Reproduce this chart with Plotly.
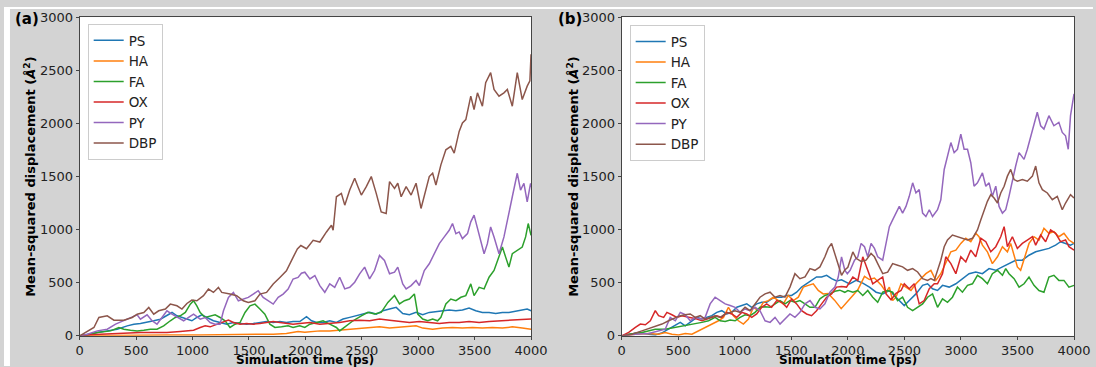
import plotly.graph_objects as go

# Mean-squared displacement curves, (time in ps, MSD in Å^2)
names = ["PS", "HA", "FA", "OX", "PY", "DBP"]
colors = ["#1f77b4", "#ff7f0e", "#2ca02c", "#d62728", "#9467bd", "#8c564b"]
x_ticks = [0, 500, 1000, 1500, 2000, 2500, 3000, 3500, 4000]
y_ticks = [0, 500, 1000, 1500, 2000, 2500, 3000]

# ---- panel (a) ----
a_ps = [(0,0),(68,16),(156,31),(244,47),(332,63),(421,94),(480,110),(538,116),(597,126),(656,142),(715,157),(773,189),(818,220),(862,189),(906,173),(950,157),(994,142),(1038,173),(1082,198),(1126,173),(1185,142),(1244,126),(1303,110),(1362,126),(1421,116),(1479,110),(1538,116),(1597,126),(1656,135),(1715,126),(1774,135),(1832,126),(1891,135),(1950,135),(2010,180),(2055,142),(2099,126),(2157,126),(2216,142),(2275,126),(2334,158),(2393,174),(2452,189),(2510,205),(2569,221),(2628,205),(2687,237),(2746,252),(2805,268),(2863,211),(2922,199),(2981,221),(3040,199),(3098,221),(3157,230),(3216,237),(3275,243),(3334,237),(3392,243),(3451,262),(3510,237),(3569,221),(3628,221),(3687,211),(3746,221),(3804,221),(3863,230),(3922,243),(3966,252),(4000,237)]
a_ha = [(0,0),(200,3),(480,6),(773,9),(1070,9),(1362,9),(1597,13),(1715,16),(1832,22),(1891,31),(1935,41),(1995,35),(2040,41),(2128,47),(2216,47),(2304,54),(2393,63),(2481,73),(2569,79),(2657,85),(2746,73),(2834,79),(2922,85),(2981,95),(3040,73),(3128,63),(3216,73),(3304,79),(3392,73),(3481,79),(3569,73),(3657,79),(3746,73),(3834,85),(3922,73),(4000,63)]
a_fa = [(0,0),(68,9),(156,31),(274,47),(347,79),(391,63),(450,53),(509,47),(568,53),(627,63),(685,63),(744,94),(803,142),(847,173),(891,189),(936,220),(980,299),(1009,330),(1038,283),(1068,220),(1112,173),(1156,189),(1200,198),(1244,173),(1288,142),(1332,79),(1377,110),(1421,126),(1465,220),(1509,283),(1553,299),(1597,252),(1641,204),(1685,110),(1730,79),(1789,85),(1847,94),(1891,79),(1950,95),(1995,79),(2040,110),(2099,126),(2157,142),(2216,110),(2275,79),(2304,47),(2363,95),(2422,142),(2496,189),(2554,221),(2613,205),(2672,221),(2731,315),(2790,379),(2834,300),(2878,331),(2922,347),(2966,394),(2996,205),(3040,158),(3084,142),(3128,158),(3172,142),(3201,174),(3245,300),(3289,347),(3334,331),(3378,363),(3422,379),(3466,489),(3495,379),(3540,457),(3584,442),(3628,552),(3672,615),(3716,741),(3746,836),(3775,741),(3804,647),(3834,773),(3878,804),(3922,836),(3952,931),(3975,1057),(4000,946)]
a_ox = [(0,0),(68,9),(185,16),(303,22),(421,31),(538,31),(656,31),(773,31),(891,41),(1009,53),(1068,79),(1112,94),(1156,85),(1215,110),(1274,135),(1318,148),(1362,126),(1421,110),(1479,116),(1538,110),(1597,116),(1656,126),(1715,135),(1774,126),(1832,116),(1891,110),(1950,117),(2040,126),(2128,110),(2216,117),(2304,126),(2393,142),(2481,148),(2569,142),(2657,158),(2746,148),(2834,136),(2922,126),(3010,136),(3098,126),(3187,117),(3275,126),(3363,126),(3451,136),(3540,126),(3628,136),(3716,142),(3804,142),(3893,148),(4000,158)]
a_py = [(0,0),(68,16),(156,47),(244,63),(318,110),(391,142),(450,173),(509,198),(538,157),(597,198),(641,142),(685,110),(729,173),(773,236),(818,204),(877,173),(921,142),(965,173),(1009,204),(1068,157),(1112,173),(1156,126),(1200,110),(1244,110),(1274,236),(1318,362),(1362,409),(1406,330),(1450,346),(1494,362),(1538,393),(1582,425),(1626,362),(1671,330),(1715,299),(1759,362),(1803,393),(1847,440),(1891,535),(1935,550),(1965,590),(1995,599),(2040,536),(2084,568),(2128,473),(2172,410),(2216,489),(2260,457),(2304,552),(2349,442),(2393,457),(2437,505),(2481,584),(2525,647),(2569,536),(2613,615),(2657,757),(2701,710),(2746,584),(2790,599),(2819,647),(2863,489),(2893,442),(2937,473),(2981,521),(3010,473),(3054,615),(3098,678),(3142,773),(3187,868),(3231,931),(3275,994),(3304,1057),(3334,962),(3363,978),(3392,915),(3437,962),(3466,1073),(3495,1136),(3525,1010),(3554,899),(3584,773),(3613,868),(3642,1025),(3672,931),(3716,773),(3760,931),(3790,1073),(3834,1309),(3878,1530),(3907,1372),(3937,1436),(3966,1262),(3996,1436),(4000,1400)]
a_dbp = [(0,0),(126,79),(170,173),(244,189),(303,148),(391,148),(465,173),(509,204),(568,220),(612,267),(656,204),(700,236),(759,252),(803,299),(862,283),(906,252),(950,305),(994,337),(1038,330),(1097,378),(1141,440),(1185,409),(1229,456),(1259,409),(1332,393),(1391,378),(1450,330),(1494,315),(1553,330),(1597,393),(1656,409),(1715,488),(1774,550),(1832,613),(1891,739),(1929,818),(1960,850),(2010,820),(2069,899),(2128,883),(2187,978),(2231,1041),(2246,994),(2275,1309),(2319,1341),(2349,1230),(2393,1372),(2437,1483),(2466,1404),(2496,1325),(2540,1404),(2584,1499),(2628,1341),(2672,1167),(2716,1152),(2746,1451),(2790,1388),(2819,1436),(2849,1309),(2893,1404),(2937,1325),(2981,1436),(3025,1199),(3054,1309),(3098,1499),(3128,1530),(3157,1420),(3201,1609),(3245,1751),(3289,1783),(3319,1720),(3363,1924),(3392,2003),(3422,2035),(3466,2256),(3495,2130),(3525,2287),(3569,2161),(3598,2382),(3642,2477),(3672,2319),(3716,2256),(3760,2287),(3790,2319),(3834,2161),(3878,2477),(3922,2224),(3966,2350),(3990,2400),(4000,2650)]

# ---- panel (b) ----
b_ps = [(0,0),(62,16),(150,32),(238,16),(297,9),(360,30),(415,63),(474,104),(518,127),(562,95),(621,142),(665,174),(709,158),(753,174),(797,190),(841,221),(885,237),(929,206),(973,221),(1018,269),(1062,285),(1106,301),(1150,269),(1194,301),(1238,316),(1282,316),(1326,348),(1371,364),(1415,364),(1459,380),(1503,380),(1547,411),(1591,459),(1635,490),(1679,522),(1723,554),(1768,554),(1812,570),(1856,538),(1900,516),(1944,528),(1988,506),(2015,490),(2073,522),(2132,497),(2191,459),(2250,411),(2308,395),(2367,427),(2426,364),(2499,285),(2543,332),(2602,395),(2661,475),(2705,490),(2749,443),(2793,427),(2837,475),(2896,459),(2955,490),(3013,538),(3072,585),(3131,601),(3190,585),(3249,633),(3308,617),(3367,649),(3425,680),(3484,712),(3543,712),(3602,759),(3661,791),(3720,807),(3778,823),(3837,854),(3881,886),(3925,870),(3969,854),(4000,870)]
b_ha = [(0,0),(121,16),(238,22),(326,16),(385,32),(444,16),(503,9),(562,22),(621,16),(679,47),(738,79),(797,111),(856,142),(900,174),(944,269),(988,190),(1032,142),(1076,111),(1121,158),(1165,269),(1209,237),(1253,316),(1297,332),(1341,364),(1385,332),(1429,301),(1473,380),(1518,332),(1562,364),(1606,459),(1650,475),(1694,490),(1738,427),(1782,395),(1826,398),(1882,336),(1941,256),(2000,322),(2044,380),(2088,433),(2117,490),(2147,560),(2190,530),(2235,544),(2294,480),(2338,411),(2367,459),(2396,332),(2426,364),(2470,490),(2514,459),(2558,427),(2602,490),(2646,538),(2690,585),(2734,617),(2778,522),(2822,585),(2866,680),(2911,791),(2955,807),(2999,870),(3043,918),(3087,886),(3131,965),(3160,933),(3190,854),(3234,791),(3278,680),(3323,744),(3367,839),(3411,791),(3440,870),(3470,744),(3499,649),(3528,617),(3558,712),(3602,870),(3646,933),(3690,902),(3734,1012),(3778,965),(3822,981),(3866,933),(3911,965),(3955,902),(4000,870)]
b_fa = [(0,0),(62,16),(179,32),(297,63),(385,63),(474,79),(562,95),(650,111),(709,127),(768,142),(826,174),(871,142),(915,136),(959,149),(1003,142),(1047,174),(1091,199),(1135,190),(1179,221),(1223,269),(1268,275),(1312,269),(1356,301),(1400,332),(1444,301),(1488,332),(1532,316),(1576,332),(1621,301),(1665,269),(1709,269),(1753,348),(1797,380),(1841,395),(1885,420),(1929,430),(1973,410),(2000,427),(2044,411),(2088,427),(2132,380),(2176,427),(2220,364),(2264,316),(2308,411),(2352,427),(2396,411),(2440,332),(2484,364),(2528,269),(2573,237),(2617,269),(2661,301),(2705,364),(2749,395),(2793,269),(2837,348),(2881,316),(2925,364),(2969,459),(3013,411),(3058,475),(3102,490),(3146,570),(3190,538),(3234,490),(3278,585),(3323,617),(3367,570),(3396,633),(3425,585),(3470,538),(3514,459),(3558,490),(3602,554),(3646,475),(3690,427),(3734,411),(3778,554),(3822,570),(3866,522),(3911,522),(3955,459),(4000,475)]
b_ox = [(0,0),(62,32),(121,79),(165,111),(209,104),(253,142),(297,237),(326,190),(371,174),(400,221),(444,199),(488,174),(532,190),(577,180),(621,174),(665,158),(709,142),(753,158),(797,174),(841,190),(885,174),(929,221),(973,206),(1018,174),(1062,221),(1106,206),(1150,174),(1194,206),(1238,269),(1282,301),(1326,269),(1371,332),(1415,316),(1459,269),(1503,348),(1547,301),(1591,237),(1635,206),(1679,190),(1723,237),(1768,301),(1812,364),(1856,395),(1900,459),(1944,465),(1988,459),(2044,554),(2088,522),(2132,744),(2176,617),(2220,490),(2264,522),(2308,554),(2338,395),(2382,340),(2426,400),(2470,427),(2499,490),(2543,443),(2587,490),(2631,301),(2675,332),(2720,443),(2764,490),(2793,490),(2837,585),(2866,744),(2911,680),(2955,585),(2999,744),(3043,696),(3087,807),(3131,744),(3176,918),(3220,886),(3264,791),(3308,839),(3352,933),(3382,1028),(3411,839),(3455,933),(3499,823),(3543,870),(3587,902),(3632,933),(3661,854),(3705,949),(3749,886),(3793,997),(3837,965),(3881,886),(3925,902),(3955,839),(4000,807)]
b_py = [(0,0),(121,16),(238,22),(326,47),(385,63),(429,174),(474,142),(518,221),(562,199),(606,142),(650,174),(694,158),(738,174),(782,301),(826,364),(871,332),(915,301),(959,285),(1003,269),(1047,221),(1091,253),(1135,237),(1179,269),(1223,237),(1268,142),(1312,127),(1356,174),(1400,111),(1444,158),(1488,206),(1532,174),(1576,221),(1621,301),(1665,332),(1709,269),(1753,253),(1797,301),(1841,411),(1885,459),(1915,554),(1944,744),(1973,617),(1995,585),(2020,617),(2059,712),(2088,744),(2117,870),(2147,839),(2176,744),(2205,870),(2235,823),(2264,744),(2308,712),(2338,870),(2367,1028),(2396,1092),(2426,1155),(2455,1218),(2484,1155),(2514,1218),(2543,1313),(2573,1440),(2602,1345),(2631,1376),(2661,1155),(2690,1123),(2720,1187),(2749,1123),(2793,1187),(2822,1281),(2852,1566),(2881,1693),(2911,1819),(2940,1724),(2969,1756),(2999,1898),(3028,1756),(3058,1756),(3087,1629),(3116,1408),(3146,1440),(3190,1534),(3220,1408),(3249,1440),(3278,1313),(3308,1408),(3337,1218),(3367,1155),(3396,1187),(3425,1313),(3455,1471),(3484,1598),(3514,1724),(3558,1661),(3587,1756),(3617,1883),(3646,2009),(3675,2104),(3705,1977),(3734,1946),(3778,2072),(3822,1977),(3866,2009),(3896,1914),(3925,1883),(3949,1756),(3969,2072),(4000,2278)]
b_dbp = [(0,0),(91,16),(179,47),(268,79),(356,111),(415,142),(474,174),(518,190),(562,199),(606,206),(650,174),(694,190),(738,158),(782,174),(826,190),(871,174),(915,206),(959,221),(1003,237),(1047,221),(1091,269),(1135,237),(1179,301),(1223,364),(1268,395),(1312,411),(1356,364),(1400,380),(1444,364),(1488,459),(1532,585),(1576,538),(1621,554),(1665,633),(1709,617),(1753,649),(1797,744),(1826,823),(1856,870),(1885,775),(1915,680),(1944,570),(1973,620),(2000,645),(2044,790),(2073,730),(2117,700),(2161,712),(2205,775),(2235,744),(2264,680),(2308,585),(2352,600),(2396,680),(2440,664),(2484,649),(2528,617),(2573,633),(2617,601),(2661,538),(2705,522),(2734,538),(2764,522),(2793,617),(2822,712),(2852,839),(2881,902),(2925,949),(2969,933),(3013,918),(3058,902),(3102,918),(3146,997),(3176,1092),(3205,1187),(3234,1266),(3264,1329),(3293,1297),(3323,1250),(3352,1345),(3382,1408),(3411,1503),(3440,1566),(3470,1471),(3499,1455),(3543,1471),(3587,1455),(3632,1503),(3661,1598),(3690,1440),(3720,1376),(3764,1345),(3808,1281),(3852,1313),(3896,1187),(3925,1250),(3969,1329),(4000,1297)]

panel_a = [a_ps, a_ha, a_fa, a_ox, a_py, a_dbp]
panel_b = [b_ps, b_ha, b_fa, b_ox, b_py, b_dbp]

W, H = 1096, 367

# on-screen box that the paper coordinates span (left, top, width, height)
BOX_L, BOX_T, BOX_W, BOX_H = 3, 8, 1079, 350


def px(x):
    """screen x (pixels from the left) -> paper x"""
    return (x - BOX_L) / BOX_W


def py(y):
    """screen y (pixels from the top) -> paper y"""
    return 1 - (y - BOX_T) / BOX_H


fig = go.Figure()

for panel, xa, ya, leg in [(panel_a, "x", "y", "legend"), (panel_b, "x2", "y2", "legend2")]:
    for name, color, series in zip(names, colors, panel):
        fig.add_trace(go.Scatter(
            x=[p[0] for p in series], y=[p[1] for p in series],
            mode="lines", name=name, line=dict(color=color, width=1.5),
            xaxis=xa, yaxis=ya, legend=leg))

tick_font = dict(family="DejaVu Sans", size=13, color="#222")
axis_common = dict(showline=True, mirror=True, linecolor="#444", linewidth=1,
                   ticks="outside", ticklen=3, tickcolor="#444", tickfont=tick_font,
                   showgrid=False, zeroline=False)

legend_common = dict(xanchor="left", yanchor="top", bgcolor="white",
                     bordercolor="#cccccc", borderwidth=1,
                     font=dict(family="DejaVu Sans", size=13.5, color="#222"),
                     itemwidth=30, tracegroupgap=0)

fig.update_layout(
    width=W, height=H, margin=dict(l=0, r=0, t=0, b=0),
    paper_bgcolor="#d3d3d3", plot_bgcolor="white",
    xaxis=dict(domain=[px(79), px(532)], range=[0, 4000], tickvals=x_ticks, anchor="y", **axis_common),
    yaxis=dict(domain=[py(335), py(18)], range=[0, 3000], tickvals=y_ticks, anchor="x", **axis_common),
    xaxis2=dict(domain=[px(623), px(1077)], range=[0, 4000], tickvals=x_ticks, anchor="y2", **axis_common),
    yaxis2=dict(domain=[py(335), py(18)], range=[0, 3000], tickvals=y_ticks, anchor="x2", **axis_common),
    legend=dict(x=px(87), y=py(25), **legend_common),
    legend2=dict(x=px(631), y=py(26), **legend_common),
    showlegend=True,
)

# white page border above and to the left of the grey figure background
for x0, x1, y0, y1 in [(BOX_L, W, BOX_T, 10), (BOX_L, 9, BOX_T, 365)]:
    fig.add_shape(type="rect", xref="paper", yref="paper",
                  x0=px(x0), x1=px(x1), y0=py(y1), y1=py(y0),
                  fillcolor="white", line=dict(width=0), layer="below")

label_font = dict(family="DejaVu Sans", size=12, color="black")
ylabel = "<b>Mean-squared displacement (<i>Å</i><sup>2</sup>)</b>"
xlabel = "<b>Simulation time (ps)</b>"
for cx, lx, tag, tx in [(305, 29, "(a)", 12), (850, 574, "(b)", 557)]:
    fig.add_annotation(x=px(cx), y=py(359), xref="paper", yref="paper", text=xlabel,
                       showarrow=False, font=label_font, xanchor="center", yanchor="middle")
    fig.add_annotation(x=px(lx), y=py(176), xref="paper", yref="paper", text=ylabel,
                       showarrow=False, font=dict(family="DejaVu Sans", size=13, color="black"),
                       textangle=-90, xanchor="center", yanchor="middle")
    fig.add_annotation(x=px(tx), y=py(20), xref="paper", yref="paper", text="<b>" + tag + "</b>",
                       showarrow=False, font=dict(family="DejaVu Sans", size=15, color="black"),
                       xanchor="left", yanchor="middle")

fig.write_html("out.html")
